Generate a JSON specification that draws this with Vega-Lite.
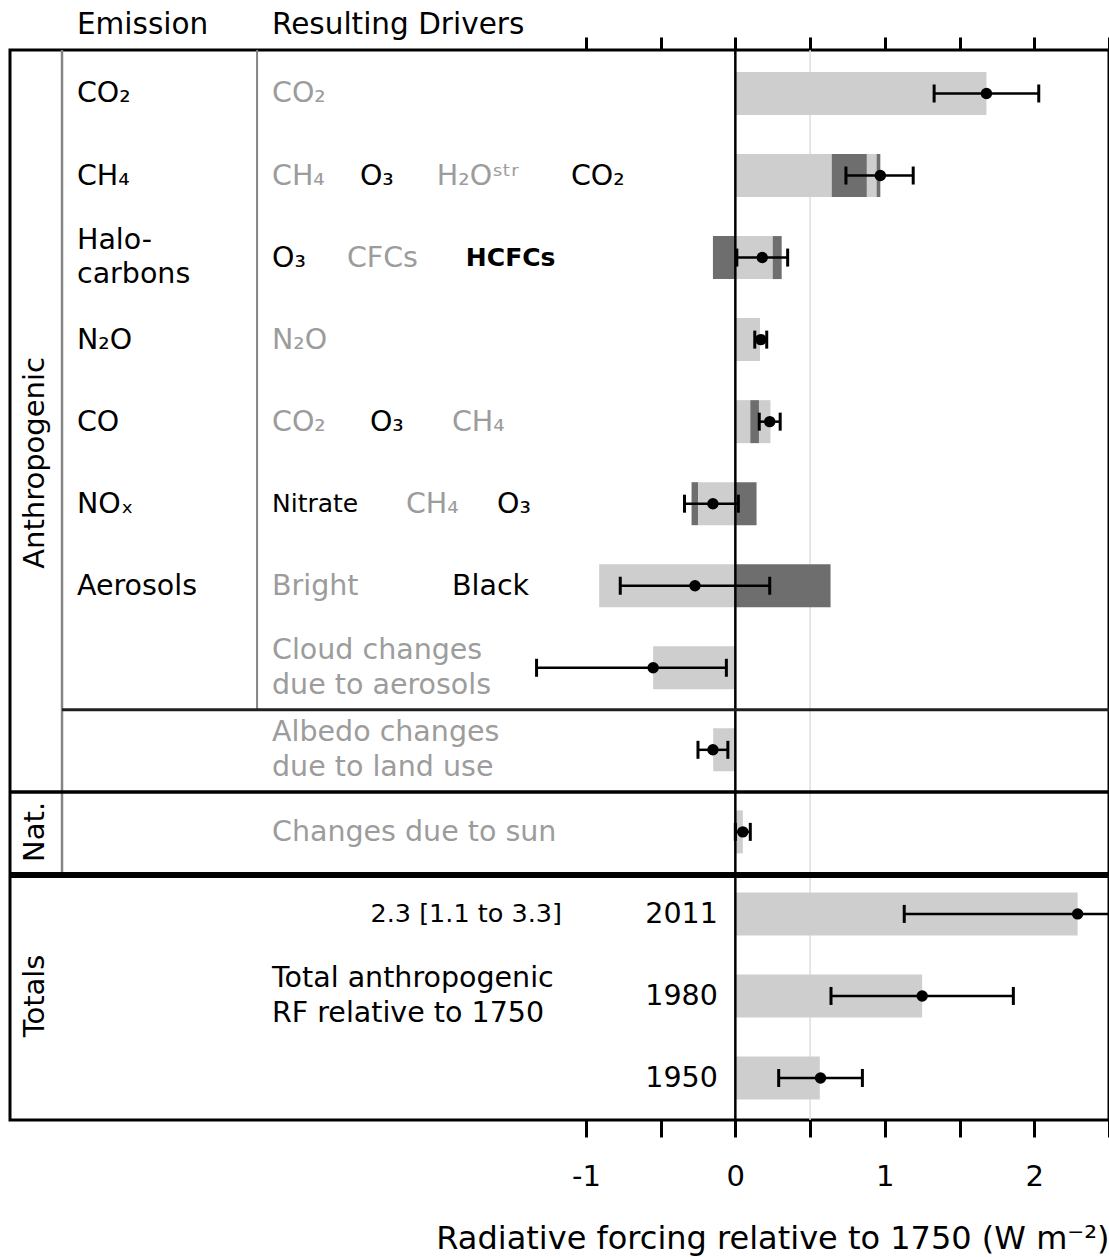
{
  "$schema": "https://vega.github.io/schema/vega-lite/v6.json",
  "width": 1099,
  "height": 1070,
  "autosize": {"type": "none"},
  "padding": {"left": 10, "top": 50, "right": 0, "bottom": 137},
  "background": "white",
  "config": {
    "view": {"stroke": "black", "strokeWidth": 3},
    "text": {"font": "DejaVu Sans"},
    "axis": {"labelFont": "DejaVu Sans", "titleFont": "DejaVu Sans"}
  },
  "layer": [
    {
      "data": {"values": [{}]},
      "mark": {"type": "rule", "color": "#dedede", "strokeWidth": 1.5},
      "encoding": {
        "x": {"datum": 0.5, "type": "quantitative",
          "scale": {"domain": [-4.853, 2.5], "nice": false, "zero": false, "padding": 0},
          "axis": {"orient": "top", "values": [-1, -0.5, 0, 0.5, 1, 1.5, 2, 2.5], "labels": false, "domain": false, "grid": false, "ticks": true, "tickSize": 13, "tickWidth": 3, "tickColor": "black", "title": null}}
      }
    },
    {
      "data": {"values": [
        {"row": 0, "start": 0, "end": 1.68, "shade": "light"},
        {"row": 1, "start": 0, "end": 0.645, "shade": "light"},
        {"row": 1, "start": 0.645, "end": 0.88, "shade": "dark"},
        {"row": 1, "start": 0.88, "end": 0.945, "shade": "light"},
        {"row": 1, "start": 0.945, "end": 0.97, "shade": "dark"},
        {"row": 2, "start": -0.15, "end": 0, "shade": "dark"},
        {"row": 2, "start": 0, "end": 0.25, "shade": "light"},
        {"row": 2, "start": 0.25, "end": 0.31, "shade": "dark"},
        {"row": 3, "start": 0, "end": 0.165, "shade": "light"},
        {"row": 4, "start": 0, "end": 0.1, "shade": "light"},
        {"row": 4, "start": 0.1, "end": 0.158, "shade": "dark"},
        {"row": 4, "start": 0.158, "end": 0.235, "shade": "light"},
        {"row": 5, "start": -0.293, "end": -0.249, "shade": "dark"},
        {"row": 5, "start": -0.249, "end": 0, "shade": "light"},
        {"row": 5, "start": 0, "end": 0.142, "shade": "dark"},
        {"row": 6, "start": -0.911, "end": 0, "shade": "light"},
        {"row": 6, "start": 0, "end": 0.637, "shade": "dark"},
        {"row": 7, "start": -0.55, "end": 0, "shade": "light"},
        {"row": 8, "start": -0.148, "end": 0, "shade": "light"},
        {"row": 9, "start": 0, "end": 0.05, "shade": "light"},
        {"row": 10, "start": 0, "end": 2.29, "shade": "light"},
        {"row": 11, "start": 0, "end": 1.25, "shade": "light"},
        {"row": 12, "start": 0, "end": 0.565, "shade": "light"}
      ]},
      "mark": {"type": "bar", "orient": "horizontal", "height": 43},
      "encoding": {
        "x": {"field": "start", "type": "quantitative",
          "scale": {"domain": [-4.853, 2.5], "nice": false, "zero": false, "padding": 0},
          "axis": {"orient": "bottom", "values": [-1, -0.5, 0, 0.5, 1, 1.5, 2, 2.5], "domain": false, "grid": false, "tickSize": 17, "tickWidth": 3, "tickColor": "black",
            "labelExpr": "datum.value % 1 === 0 ? '' + datum.value : ''", "labelFontSize": 29, "labelColor": "black", "labelPadding": 25, "labelOverlap": false, "labelFlush": false,
            "title": "Radiative forcing relative to 1750 (W m⁻²)", "titleFontSize": 32, "titleFontWeight": "normal", "titleColor": "black", "titleAnchor": "end", "titlePadding": 32}},
        "x2": {"field": "end"},
        "y": {"field": "row", "type": "quantitative",
          "scale": {"domain": [-0.53, 12.512], "nice": false, "zero": false, "reverse": true, "padding": 0}, "axis": null},
        "color": {"field": "shade", "type": "nominal", "scale": {"domain": ["light", "dark"], "range": ["#cecece", "#6e6e6e"]}, "legend": null}
      }
    },
    {
      "data": {"values": [{}]},
      "mark": {"type": "rule", "color": "black", "strokeWidth": 2.5},
      "encoding": {"x": {"datum": 0, "type": "quantitative", "axis": null}}
    },
    {
      "data": {"values": [{}]},
      "mark": {"type": "rule", "color": "#858585", "strokeWidth": 2.5},
      "encoding": {"x": {"datum": -4.505, "type": "quantitative", "axis": null}, "y": {"datum": -0.53, "type": "quantitative", "axis": null}, "y2": {"datum": 9.526}}
    },
    {
      "data": {"values": [{}]},
      "mark": {"type": "rule", "color": "#858585", "strokeWidth": 2},
      "encoding": {"x": {"datum": -3.2, "type": "quantitative", "axis": null}, "y": {"datum": -0.53, "type": "quantitative", "axis": null}, "y2": {"datum": 7.513}}
    },
    {
      "data": {"values": [{}]},
      "mark": {"type": "rule", "color": "#202020", "strokeWidth": 3},
      "encoding": {"x": {"datum": -4.505, "type": "quantitative", "axis": null}, "x2": {"datum": 2.5}, "y": {"datum": 7.513, "type": "quantitative", "axis": null}}
    },
    {
      "data": {"values": [{}]},
      "mark": {"type": "rule", "color": "black", "strokeWidth": 3.5},
      "encoding": {"x": {"datum": -4.853, "type": "quantitative", "axis": null}, "x2": {"datum": 2.5}, "y": {"datum": 8.514, "type": "quantitative", "axis": null}}
    },
    {
      "data": {"values": [{}]},
      "mark": {"type": "rule", "color": "black", "strokeWidth": 6},
      "encoding": {"x": {"datum": -4.853, "type": "quantitative", "axis": null}, "x2": {"datum": 2.5}, "y": {"datum": 9.526, "type": "quantitative", "axis": null}}
    },
    {
      "data": {"name": "errs", "values": [
        {"row": 0, "best": 1.68, "lo": 1.33, "hi": 2.03},
        {"row": 1, "best": 0.97, "lo": 0.74, "hi": 1.19},
        {"row": 2, "best": 0.18, "lo": 0.01, "hi": 0.35},
        {"row": 3, "best": 0.17, "lo": 0.13, "hi": 0.21},
        {"row": 4, "best": 0.23, "lo": 0.16, "hi": 0.30},
        {"row": 5, "best": -0.15, "lo": -0.34, "hi": 0.02},
        {"row": 6, "best": -0.27, "lo": -0.77, "hi": 0.23},
        {"row": 7, "best": -0.55, "lo": -1.33, "hi": -0.06},
        {"row": 8, "best": -0.15, "lo": -0.25, "hi": -0.05},
        {"row": 9, "best": 0.05, "lo": 0.0, "hi": 0.10},
        {"row": 10, "best": 2.29, "lo": 1.13, "hi": 3.33},
        {"row": 11, "best": 1.25, "lo": 0.64, "hi": 1.86},
        {"row": 12, "best": 0.57, "lo": 0.29, "hi": 0.85}
      ]},
      "layer": [
        {
          "mark": {"type": "rule", "color": "black", "strokeWidth": 2.5, "clip": true},
          "encoding": {"x": {"field": "lo", "type": "quantitative", "axis": null}, "x2": {"field": "hi"}, "y": {"field": "row", "type": "quantitative", "axis": null}}
        },
        {
          "mark": {"type": "tick", "orient": "vertical", "color": "black", "size": 18, "thickness": 3, "opacity": 1, "clip": true},
          "encoding": {"x": {"field": "lo", "type": "quantitative", "axis": null}, "y": {"field": "row", "type": "quantitative", "axis": null}}
        },
        {
          "mark": {"type": "tick", "orient": "vertical", "color": "black", "size": 18, "thickness": 3, "opacity": 1, "clip": true},
          "encoding": {"x": {"field": "hi", "type": "quantitative", "axis": null}, "y": {"field": "row", "type": "quantitative", "axis": null}}
        },
        {
          "mark": {"type": "circle", "color": "black", "size": 130, "opacity": 1},
          "encoding": {"x": {"field": "best", "type": "quantitative", "axis": null}, "y": {"field": "row", "type": "quantitative", "axis": null}}
        }
      ]
    },
    {
      "data": {"values": [
        {"t": "CO₂", "x": -4.405, "y": 0},
        {"t": "CH₄", "x": -4.405, "y": 1},
        {"t": "Halo-", "x": -4.405, "y": 1.786},
        {"t": "carbons", "x": -4.405, "y": 2.2},
        {"t": "N₂O", "x": -4.405, "y": 3},
        {"t": "CO", "x": -4.405, "y": 4},
        {"t": "NOₓ", "x": -4.405, "y": 5},
        {"t": "Aerosols", "x": -4.405, "y": 6},
        {"t": "O₃", "x": -2.512, "y": 1},
        {"t": "CO₂", "x": -1.1, "y": 1},
        {"t": "O₃", "x": -3.1, "y": 2},
        {"t": "O₃", "x": -2.445, "y": 4},
        {"t": "O₃", "x": -1.595, "y": 5},
        {"t": "Black", "x": -1.896, "y": 6},
        {"t": "Total anthropogenic", "x": -3.1, "y": 10.78},
        {"t": "RF relative to 1750", "x": -3.1, "y": 11.208}
      ]},
      "mark": {"type": "text", "align": "left", "baseline": "middle", "fontSize": 28.5, "color": "black"},
      "encoding": {"x": {"field": "x", "type": "quantitative", "axis": null}, "y": {"field": "y", "type": "quantitative", "axis": null}, "text": {"field": "t"}}
    },
    {
      "data": {"values": [
        {"t": "CO₂", "x": -3.1, "y": 0},
        {"t": "CH₄", "x": -3.1, "y": 1},
        {"t": "H₂Oˢᵗʳ", "x": -1.997, "y": 1},
        {"t": "CFCs", "x": -2.599, "y": 2},
        {"t": "N₂O", "x": -3.1, "y": 3},
        {"t": "CO₂", "x": -3.1, "y": 4},
        {"t": "CH₄", "x": -1.896, "y": 4},
        {"t": "CH₄", "x": -2.204, "y": 5},
        {"t": "Bright", "x": -3.1, "y": 6},
        {"t": "Cloud changes", "x": -3.1, "y": 6.784},
        {"t": "due to aerosols", "x": -3.1, "y": 7.21},
        {"t": "Albedo changes", "x": -3.1, "y": 7.783},
        {"t": "due to land use", "x": -3.1, "y": 8.21},
        {"t": "Changes due to sun", "x": -3.1, "y": 9.0}
      ]},
      "mark": {"type": "text", "align": "left", "baseline": "middle", "fontSize": 28.5, "color": "#9c9c9c"},
      "encoding": {"x": {"field": "x", "type": "quantitative", "axis": null}, "y": {"field": "y", "type": "quantitative", "axis": null}, "text": {"field": "t"}}
    },
    {
      "data": {"values": [{"t": "HCFCs", "x": -1.803, "y": 2}]},
      "mark": {"type": "text", "align": "left", "baseline": "middle", "fontSize": 25, "fontWeight": "bold", "color": "black"},
      "encoding": {"x": {"field": "x", "type": "quantitative", "axis": null}, "y": {"field": "y", "type": "quantitative", "axis": null}, "text": {"field": "t"}}
    },
    {
      "data": {"values": [{"t": "Nitrate", "x": -3.1, "y": 5}]},
      "mark": {"type": "text", "align": "left", "baseline": "middle", "fontSize": 25, "color": "black"},
      "encoding": {"x": {"field": "x", "type": "quantitative", "axis": null}, "y": {"field": "y", "type": "quantitative", "axis": null}, "text": {"field": "t"}}
    },
    {
      "data": {"values": [{"t": "2.3 [1.1 to 3.3]", "x": -1.16, "y": 10}]},
      "mark": {"type": "text", "align": "right", "baseline": "middle", "fontSize": 25.5, "color": "black"},
      "encoding": {"x": {"field": "x", "type": "quantitative", "axis": null}, "y": {"field": "y", "type": "quantitative", "axis": null}, "text": {"field": "t"}}
    },
    {
      "data": {"values": [
        {"t": "2011", "x": -0.117, "y": 10},
        {"t": "1980", "x": -0.117, "y": 11},
        {"t": "1950", "x": -0.117, "y": 12}
      ]},
      "mark": {"type": "text", "align": "right", "baseline": "middle", "fontSize": 28.5, "color": "black"},
      "encoding": {"x": {"field": "x", "type": "quantitative", "axis": null}, "y": {"field": "y", "type": "quantitative", "axis": null}, "text": {"field": "t"}}
    },
    {
      "data": {"values": [
        {"t": "Emission", "x": -4.405, "y": -0.835},
        {"t": "Resulting Drivers", "x": -3.1, "y": -0.835}
      ]},
      "mark": {"type": "text", "align": "left", "baseline": "middle", "fontSize": 29.5, "color": "black"},
      "encoding": {"x": {"field": "x", "type": "quantitative", "axis": null}, "y": {"field": "y", "type": "quantitative", "axis": null}, "text": {"field": "t"}}
    },
    {
      "data": {"values": [
        {"t": "Anthropogenic", "x": -4.685, "y": 4.503},
        {"t": "Nat.", "x": -4.685, "y": 9.0},
        {"t": "Totals", "x": -4.685, "y": 11.0}
      ]},
      "mark": {"type": "text", "align": "center", "baseline": "middle", "fontSize": 29, "angle": 270, "color": "black"},
      "encoding": {"x": {"field": "x", "type": "quantitative", "axis": null}, "y": {"field": "y", "type": "quantitative", "axis": null}, "text": {"field": "t"}}
    }
  ]
}
